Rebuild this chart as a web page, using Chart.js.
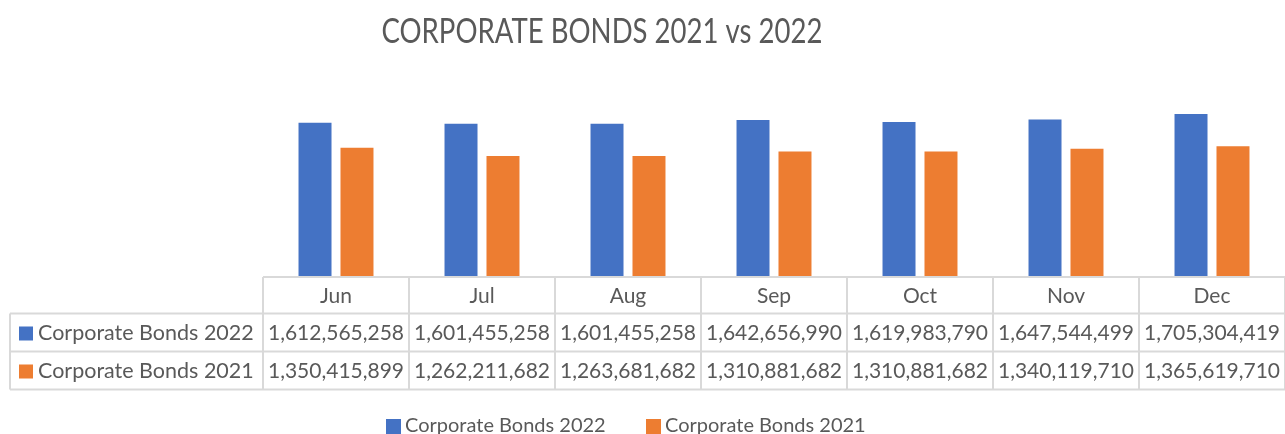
<!DOCTYPE html>
<html>
<head>
<meta charset="utf-8">
<script src="https://cdn.jsdelivr.net/npm/chart.js@4"></script>
<style>
  html, body { margin: 0; padding: 0; background: #ffffff; }
  #wrap { width: 1285px; height: 434px; position: relative; }
</style>
</head>
<body>
<div id="wrap"><canvas id="bondsChart"></canvas></div>
<script>
const months = ['Jun', 'Jul', 'Aug', 'Sep', 'Oct', 'Nov', 'Dec'];
const seriesNames = ['Corporate Bonds 2022', 'Corporate Bonds 2021'];
const bonds2022 = [1612565258, 1601455258, 1601455258, 1642656990, 1619983790, 1647544499, 1705304419];
const bonds2021 = [1350415899, 1262211682, 1263681682, 1310881682, 1310881682, 1340119710, 1365619710];
const seriesColors = ['#4472C4', '#ED7D31'];
const chartTitle = 'CORPORATE BONDS 2021 vs 2022';

const textColor = '#595959';
const gridColor = '#d9d9d9';
const fontFamily = 'Lato, "Open Sans", sans-serif';

// draws title, the data table under the bars and the legend at the bottom
const tablePlugin = {
    id: 'dataTable',
    afterDraw(chart) {
        const ctx = chart.ctx;
        const x = chart.scales.x;
        const area = chart.chartArea;
        const colW = x.getPixelForValue(1) - x.getPixelForValue(0);
        const left = area.left;
        const right = x.getPixelForValue(months.length - 1) + colW / 2;
        const tableLeft = 10;
        const rows = [area.bottom + 1, 313.5, 351.5, 389.5];

        ctx.save();
        // title (Lato is wider than the original font, squeeze it a bit)
        ctx.fillStyle = textColor;
        ctx.font = '34px ' + fontFamily;
        ctx.textAlign = 'center';
        ctx.textBaseline = 'alphabetic';
        const tw = ctx.measureText(chartTitle).width;
        const sx = Math.min(1, 441 / tw);
        ctx.save();
        ctx.translate(602, 43);
        ctx.scale(sx, 1);
        ctx.fillText(chartTitle, 0, 0);
        ctx.restore();

        // grid lines
        ctx.strokeStyle = gridColor;
        ctx.lineWidth = 2;
        ctx.beginPath();
        ctx.moveTo(left, rows[0]); ctx.lineTo(right, rows[0]);
        for (let r = 1; r < rows.length; r++) {
            ctx.moveTo(tableLeft, rows[r]); ctx.lineTo(right, rows[r]);
        }
        ctx.moveTo(tableLeft, rows[1]); ctx.lineTo(tableLeft, rows[3]);
        for (let i = 0; i <= months.length; i++) {
            const cx = left + i * colW;
            ctx.moveTo(cx, rows[0]); ctx.lineTo(cx, rows[3]);
        }
        ctx.stroke();

        // header + values
        ctx.fillStyle = textColor;
        ctx.font = '21px ' + fontFamily;
        ctx.textBaseline = 'middle';
        ctx.textAlign = 'center';
        months.forEach((m, i) => {
            ctx.fillText(m, x.getPixelForValue(i), (rows[0] + rows[1]) / 2 + 1);
        });
        chart.data.datasets.forEach((ds, r) => {
            const cy = (rows[r + 1] + rows[r + 2]) / 2 + 1;
            ctx.textAlign = 'center';
            ds.data.forEach((v, i) => {
                ctx.fillText(v.toLocaleString('en-US'), x.getPixelForValue(i), cy);
            });
            ctx.fillStyle = ds.backgroundColor;
            ctx.fillRect(19, cy - 7, 14, 14);
            ctx.fillStyle = textColor;
            ctx.textAlign = 'left';
            ctx.font = '21.5px ' + fontFamily;
            ctx.fillText(ds.label, 38, cy);
            ctx.font = '21px ' + fontFamily;
        });

        // legend
        ctx.font = '20px ' + fontFamily;
        ctx.textAlign = 'left';
        const legendX = [386, 646];
        chart.data.datasets.forEach((ds, r) => {
            ctx.fillStyle = ds.backgroundColor;
            ctx.fillRect(legendX[r], 419, 15, 15);
            ctx.fillStyle = textColor;
            ctx.fillText(ds.label, legendX[r] + 19, 426);
        });
        ctx.restore();
    }
};

function drawChart() {
    const ctx = document.getElementById('bondsChart').getContext('2d');
    new Chart(ctx, {
        type: 'bar',
        data: {
            labels: months,
            datasets: [
                { label: seriesNames[0], data: bonds2022, backgroundColor: seriesColors[0] },
                { label: seriesNames[1], data: bonds2021, backgroundColor: seriesColors[1] }
            ]
        },
        options: {
            responsive: true,
            maintainAspectRatio: false,
            animation: false,
            categoryPercentage: 0.575,
            barPercentage: 0.786,
            layout: { padding: { left: 263, right: 0, top: 86, bottom: 158 } },
            scales: {
                x: { display: false },
                y: { display: false, min: 0, max: 2000000000 }
            },
            plugins: {
                legend: { display: false },
                title: { display: false },
                tooltip: { enabled: false }
            }
        },
        plugins: [tablePlugin]
    });
}

document.fonts.load('21px Lato').then(drawChart, drawChart);
</script>
</body>
</html>
